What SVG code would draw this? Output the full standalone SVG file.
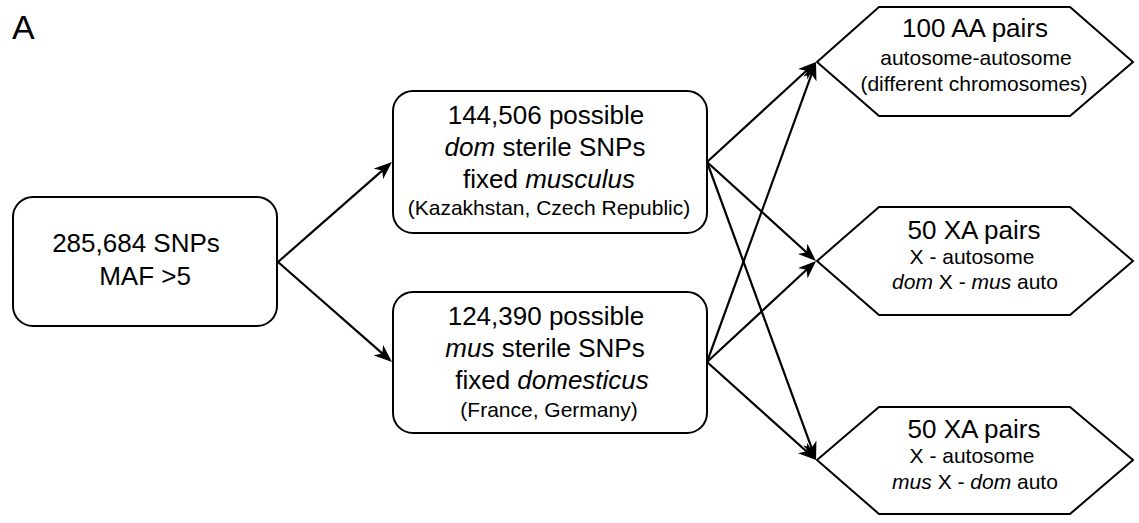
<svg xmlns="http://www.w3.org/2000/svg" width="1139" height="523" viewBox="0 0 1139 523">
<style>
text{font-family:"Liberation Sans",Arial,sans-serif;fill:#000;text-anchor:middle}
.big{font-size:26px}
.sm{font-size:21px}
.i{font-style:italic}
.box{fill:#fff;stroke:#000;stroke-width:2}
.edge{fill:none;stroke:#000;stroke-width:2.2}
</style>
<defs>
<marker id="arr" viewBox="0 0 18 14" refX="8" refY="7" markerWidth="18" markerHeight="14" markerUnits="userSpaceOnUse" orient="auto">
<path d="M18,7 L0,0 L5,7 L0,14 Z" fill="#000"/>
</marker>
</defs>
<rect width="1139" height="523" fill="#fff"/>
<text x="12" y="39" style="font-size:34px;text-anchor:start">A</text>
<g id="connectors">
<path class="edge" marker-end="url(#arr)" d="M278,262 L384.5,168.6"/>
<path class="edge" marker-end="url(#arr)" d="M278,262 L384.5,355.4"/>
<path class="edge" marker-end="url(#arr)" d="M707,162 L808.6,68.8"/>
<path class="edge" marker-end="url(#arr)" d="M707,162 L808.6,254.3"/>
<path class="edge" marker-end="url(#arr)" d="M707,162 L812.6,450.6"/>
<path class="edge" marker-end="url(#arr)" d="M707,362 L812.6,71.4"/>
<path class="edge" marker-end="url(#arr)" d="M707,362 L808.7,267.8"/>
<path class="edge" marker-end="url(#arr)" d="M707,362 L808.6,453.3"/>
</g>
<g id="n-all">
<rect class="box" x="13" y="197" width="264" height="129" rx="20"/>
<text class="big" x="136" y="252">285,684 SNPs</text>
<text class="big" x="145" y="285">MAF &gt;5</text>
</g>
<g id="n-dom">
<rect class="box" x="393" y="91" width="314" height="142" rx="20"/>
<text class="big" x="546" y="124">144,506 possible</text>
<text class="big" x="545" y="156"><tspan class="i">dom</tspan> sterile SNPs</text>
<text class="big" x="549" y="188">fixed <tspan class="i">musculus</tspan></text>
<text class="sm" x="549" y="215">(Kazakhstan, Czech Republic)</text>
</g>
<g id="n-mus">
<rect class="box" x="393" y="292" width="314" height="141" rx="20"/>
<text class="big" x="546" y="325">124,390 possible</text>
<text class="big" x="545" y="357"><tspan class="i">mus</tspan> sterile SNPs</text>
<text class="big" x="552" y="389">fixed <tspan class="i">domesticus</tspan></text>
<text class="sm" x="549" y="417">(France, Germany)</text>
</g>
<g id="n-aa">
<polygon class="box" points="817,62 879,7 1070,7 1133,62 1070,116 879,116"/>
<text class="big" x="975" y="37">100 AA pairs</text>
<text class="sm" x="976" y="65">autosome-autosome</text>
<text class="sm" x="974" y="91">(different chromosomes)</text>
</g>
<g id="n-xa1">
<polygon class="box" points="817,261 879,207 1070,207 1133,261 1070,315 879,315"/>
<text class="big" x="974" y="239">50 XA pairs</text>
<text class="sm" x="972" y="264">X - autosome</text>
<text class="sm" x="975" y="289"><tspan class="i">dom</tspan> X - <tspan class="i">mus</tspan> auto</text>
</g>
<g id="n-xa2">
<polygon class="box" points="817,460 879,407 1070,407 1133,460 1070,514 879,514"/>
<text class="big" x="974" y="438">50 XA pairs</text>
<text class="sm" x="972" y="463">X - autosome</text>
<text class="sm" x="975" y="489"><tspan class="i">mus</tspan> X - <tspan class="i">dom</tspan> auto</text>
</g>
</svg>
